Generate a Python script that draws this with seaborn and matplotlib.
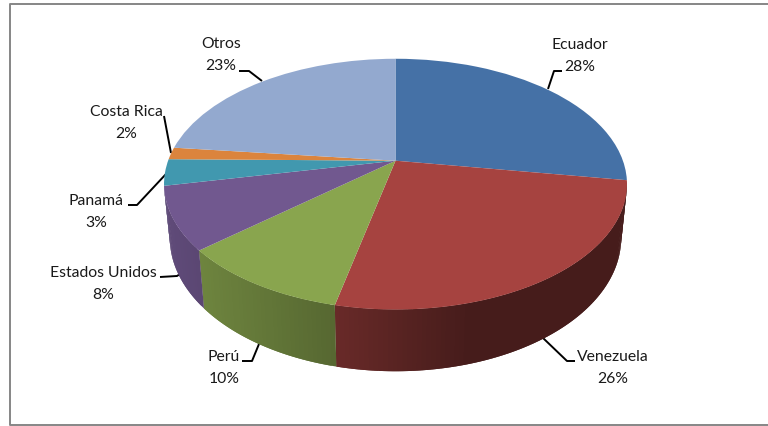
import numpy as np
import matplotlib
matplotlib.use("Agg")
import matplotlib.pyplot as plt
from matplotlib.transforms import Transform
import seaborn as sns

countries = ["Ecuador", "Venezuela", "Perú", "Estados Unidos", "Panamá", "Costa Rica", "Otros"]
# shares, the printed labels are rounded
shares = [27.5, 26.0, 10.2, 8.1, 3.4, 1.55, 23.25]
percent_labels = ["28%", "26%", "10%", "8%", "3%", "2%", "23%"]
colors = ["#4571A6", "#A64340", "#89A54E", "#71588F", "#4198AF", "#DB843D", "#93A9CF"]

# layout in pixels of the reference
label_pos = [(580, 56), (613, 368), (224, 368), (103, 284), (96, 212), (126, 123), (221, 55)]
leaders = [
    [(562, 72), (554, 72), (548, 90)],
    [(543, 339), (567, 362), (575, 362)],
    [(242, 362), (252, 362), (259, 345)],
    [(160, 278), (177, 277), (180, 275)],
    [(128, 206), (137, 206), (166, 175)],
    [(164, 117), (171, 154)],
    [(239, 72), (249, 72), (262, 82)],
]
CX, CY = 395.5, 161.7
A, B, K = 227.4, 121.0, 0.187
WALL_SX, WALL_SY, WALL_D = 0.975, 1.064, 52.2
WALL_FROM, WALL_TO = 99, 258.6
shade_x = [170, 335, 470, 640]
shade_f = [0.84, 0.63, 0.42, 0.42]


def project(u, v):
    w = 1 + K * v
    return A * u / w, B * v / w


class Perspective(Transform):
    # unit circle of the pie -> tilted disc in pixels
    input_dims = 2
    output_dims = 2

    def transform_non_affine(self, values):
        values = np.asarray(values)
        x, y = project(values[:, 0], values[:, 1])
        return np.column_stack([CX + x, CY - y])


sns.set_theme(style="white")
plt.rcParams["font.family"] = ["Lato", "DejaVu Sans"]

fig = plt.figure(figsize=(7.68, 4.27), dpi=100)
ax = fig.add_axes([0, 0, 1, 1])
palette = sns.color_palette(colors)

wedges, _ = ax.pie(shares, colors=palette, startangle=90, counterclock=False, radius=1)
pers = Perspective()
for w in wedges:
    w.set_transform(pers + ax.transData)
    w.set_zorder(3)
    w.set_linewidth(0)

ax.set_aspect("auto")
ax.set_xlim(0, 768)
ax.set_ylim(427, 0)
ax.axis("off")

# side wall, narrow strips under the rim; each overlaps the next so no seams show
ends = np.cumsum(shares) * 3.6
starts = ends - np.array(shares) * 3.6
for start, end, col in zip(starts, ends, palette):
    lo, hi = max(start, WALL_FROM), min(end, WALL_TO)
    if hi <= lo:
        continue
    t = np.radians(np.linspace(lo, hi, max(int((hi - lo)), 2) + 1))
    x, y = project(np.sin(t), np.cos(t))
    top_x, top_y = CX + x, CY - y
    bot_x, bot_y = CX + x * WALL_SX, CY - (y * WALL_SY - WALL_D)
    for i in range(len(t) - 1):
        j = min(i + 2, len(t) - 1)
        f = np.interp((top_x[i] + top_x[i + 1]) / 2, shade_x, shade_f)
        c = tuple(np.array(col) * f)
        ax.fill([top_x[i], top_x[j], bot_x[j], bot_x[i]],
                [top_y[i], top_y[j], bot_y[j], bot_y[i]],
                color=c, lw=0, zorder=2)

for name, pct, pos, pts in zip(countries, percent_labels, label_pos, leaders):
    ax.text(pos[0], pos[1], name + "\n" + pct, ha="center", va="center",
            fontsize=11.3, color="#1a1a1a", linespacing=1.8, zorder=5)
    xs, ys = zip(*pts)
    ax.plot(xs, ys, color="black", lw=1.4, zorder=1, solid_capstyle="butt")

# chart frame, open on the right
ax.plot([768, 10, 10, 768], [5, 5, 425.5, 425.5], color="#868686", lw=1.4, zorder=1,
        clip_on=False)

fig.savefig("out.png", dpi=100, facecolor="white")
